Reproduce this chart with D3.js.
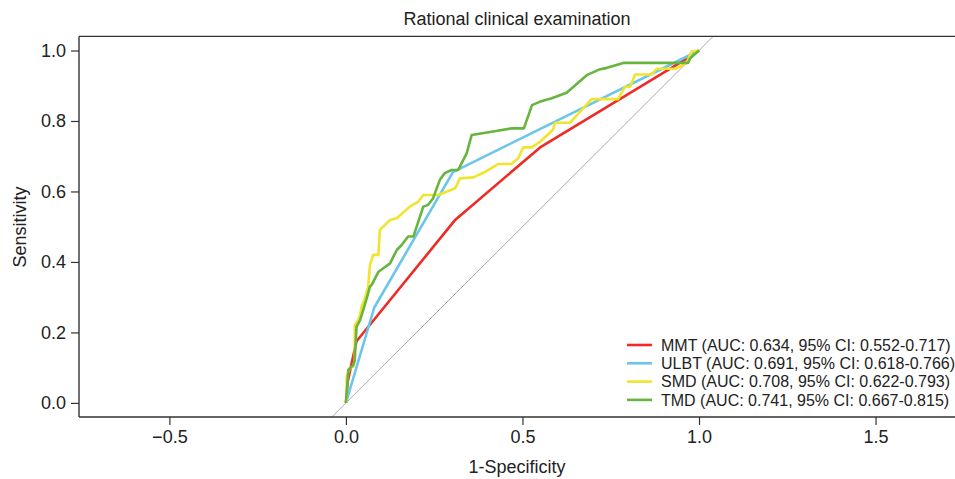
<!DOCTYPE html>
<html>
<head>
<meta charset="utf-8">
<script src="https://cdn.jsdelivr.net/npm/d3@7"></script>
<style>
  body { margin: 0; background: #fff; }
  svg text { font-family: "Liberation Sans", Arial, Helvetica, sans-serif; fill: #222; }
</style>
</head>
<body>
<div id="roc"></div>
<script>
// ROC curves: [1-specificity, sensitivity]
const mmt = [[0,0],[0.005,0.06],[0.02,0.13],[0.03,0.175],[0.31,0.52],[0.55,0.725],[0.97,0.98],[1,1]];
const ulbt = [[0,0],[0.08,0.27],[0.303,0.655],[1,1]];
const smd = [[0,0],[0.002,0.009],[0.002,0.075],[0.011,0.099],[0.021,0.103],[0.025,0.122],[0.025,0.221],
  [0.035,0.235],[0.04,0.25],[0.044,0.273],[0.054,0.298],[0.063,0.33],[0.068,0.391],[0.077,0.42],
  [0.092,0.42],[0.096,0.491],[0.125,0.519],[0.144,0.524],[0.181,0.557],[0.205,0.571],[0.219,0.59],
  [0.261,0.59],[0.285,0.599],[0.309,0.609],[0.314,0.618],[0.323,0.637],[0.361,0.64],[0.389,0.653],
  [0.417,0.669],[0.431,0.678],[0.469,0.678],[0.488,0.694],[0.502,0.725],[0.526,0.725],[0.55,0.741],
  [0.587,0.776],[0.592,0.795],[0.635,0.795],[0.696,0.862],[0.771,0.862],[0.79,0.897],[0.805,0.897],
  [0.819,0.932],[0.866,0.932],[0.88,0.948],[0.932,0.948],[0.946,0.954],[0.965,0.965],[0.979,0.997],[1,1]];
const tmd = [[0,0],[0.007,0.094],[0.016,0.103],[0.021,0.108],[0.025,0.122],[0.03,0.216],[0.04,0.235],
  [0.049,0.264],[0.059,0.297],[0.068,0.33],[0.073,0.335],[0.092,0.372],[0.106,0.382],[0.125,0.396],
  [0.144,0.434],[0.158,0.448],[0.176,0.472],[0.191,0.472],[0.219,0.557],[0.233,0.562],[0.247,0.581],
  [0.266,0.633],[0.28,0.652],[0.299,0.661],[0.318,0.661],[0.342,0.708],[0.356,0.76],[0.417,0.77],
  [0.469,0.779],[0.504,0.779],[0.527,0.845],[0.55,0.855],[0.581,0.864],[0.625,0.88],[0.682,0.93],
  [0.72,0.947],[0.737,0.95],[0.788,0.965],[0.969,0.965],[0.975,0.978],[1,1]];

const names = ["MMT", "ULBT", "SMD", "TMD"];
const legendLabels = [
  "MMT (AUC: 0.634, 95% CI: 0.552-0.717)",
  "ULBT (AUC: 0.691, 95% CI: 0.618-0.766)",
  "SMD (AUC: 0.708, 95% CI: 0.622-0.793)",
  "TMD (AUC: 0.741, 95% CI: 0.667-0.815)"
];
const colors = ["#ee2b25", "#6cc5ea", "#f1e42c", "#67b43e"];
const xTicks = [-0.5, 0, 0.5, 1, 1.5];
const yTicks = [0, 0.2, 0.4, 0.6, 0.8, 1];

const W = 955, H = 479;
const svg = d3.select("#roc").append("svg")
  .attr("width", W).attr("height", H);

const x = d3.scaleLinear().domain([-0.756, 1.725]).range([79, 955]);
const y = d3.scaleLinear().domain([-0.04, 1.04]).range([417, 36.4]);

svg.append("defs").append("clipPath").attr("id", "clip")
  .append("rect")
  .attr("x", x.range()[0]).attr("y", y.range()[1])
  .attr("width", x.range()[1] - x.range()[0])
  .attr("height", y.range()[0] - y.range()[1]);

const plot = svg.append("g").attr("clip-path", "url(#clip)");

// chance line y = x
plot.append("line")
  .attr("x1", x(-0.1)).attr("y1", y(-0.1))
  .attr("x2", x(1.1)).attr("y2", y(1.1))
  .attr("stroke", "#a8a8a8").attr("stroke-width", 1);

const line = d3.line().x(d => x(d[0])).y(d => y(d[1]));
[mmt, ulbt, smd, tmd].forEach((s, i) => {
  plot.append("path")
    .datum(s)
    .attr("d", line)
    .attr("fill", "none")
    .attr("stroke", colors[i])
    .attr("stroke-width", 2.6)
    .attr("stroke-linejoin", "round");
});

// axes
const xAxis = svg.append("g")
  .attr("transform", "translate(0," + y.range()[0] + ")")
  .call(d3.axisBottom(x).tickValues(xTicks).tickFormat(d3.format(".1f")).tickSizeOuter(0).tickSize(8).tickPadding(5));
const yAxis = svg.append("g")
  .attr("transform", "translate(" + x.range()[0] + ",0)")
  .call(d3.axisLeft(y).tickValues(yTicks).tickFormat(d3.format(".1f")).tickSizeOuter(0).tickSize(8).tickPadding(5));
[xAxis, yAxis].forEach(a => {
  a.selectAll("text").style("font-size", "18px").style("font-family", "'Liberation Sans', Arial, sans-serif").attr("fill", "#222");
  a.selectAll("line").attr("stroke", "#333").attr("stroke-width", 1.2);
  a.select(".domain").attr("stroke", "#333").attr("stroke-width", 1.4);
});
xAxis.select(".domain").attr("d", "M" + x.range()[0] + ",0H" + x.range()[1]);
yAxis.select(".domain").attr("d", "M0," + y.range()[0] + "V" + y.range()[1]);

// top border
svg.append("line")
  .attr("x1", x.range()[0]).attr("x2", x.range()[1])
  .attr("y1", y.range()[1]).attr("y2", y.range()[1])
  .attr("stroke", "#333").attr("stroke-width", 1.4);

// titles
svg.append("text")
  .attr("x", 517).attr("y", 25)
  .attr("text-anchor", "middle")
  .style("font-size", "18px")
  .text("Rational clinical examination");
svg.append("text")
  .attr("x", 517).attr("y", 473)
  .attr("text-anchor", "middle")
  .style("font-size", "18px")
  .text("1-Specificity");
svg.append("text")
  .attr("transform", "translate(26,227) rotate(-90)")
  .attr("text-anchor", "middle")
  .style("font-size", "18px")
  .text("Sensitivity");

// legend
const legend = svg.append("g").attr("transform", "translate(627,345)");
legendLabels.forEach((lab, i) => {
  const row = legend.append("g").attr("transform", "translate(0," + (i * 18.3) + ")");
  row.append("line")
    .attr("x1", 0).attr("x2", 25)
    .attr("stroke", colors[i]).attr("stroke-width", 2.6);
  row.append("text")
    .attr("x", 34).attr("dy", "0.35em")
    .style("font-size", "16px")
    .text(lab);
});
</script>
</body>
</html>
